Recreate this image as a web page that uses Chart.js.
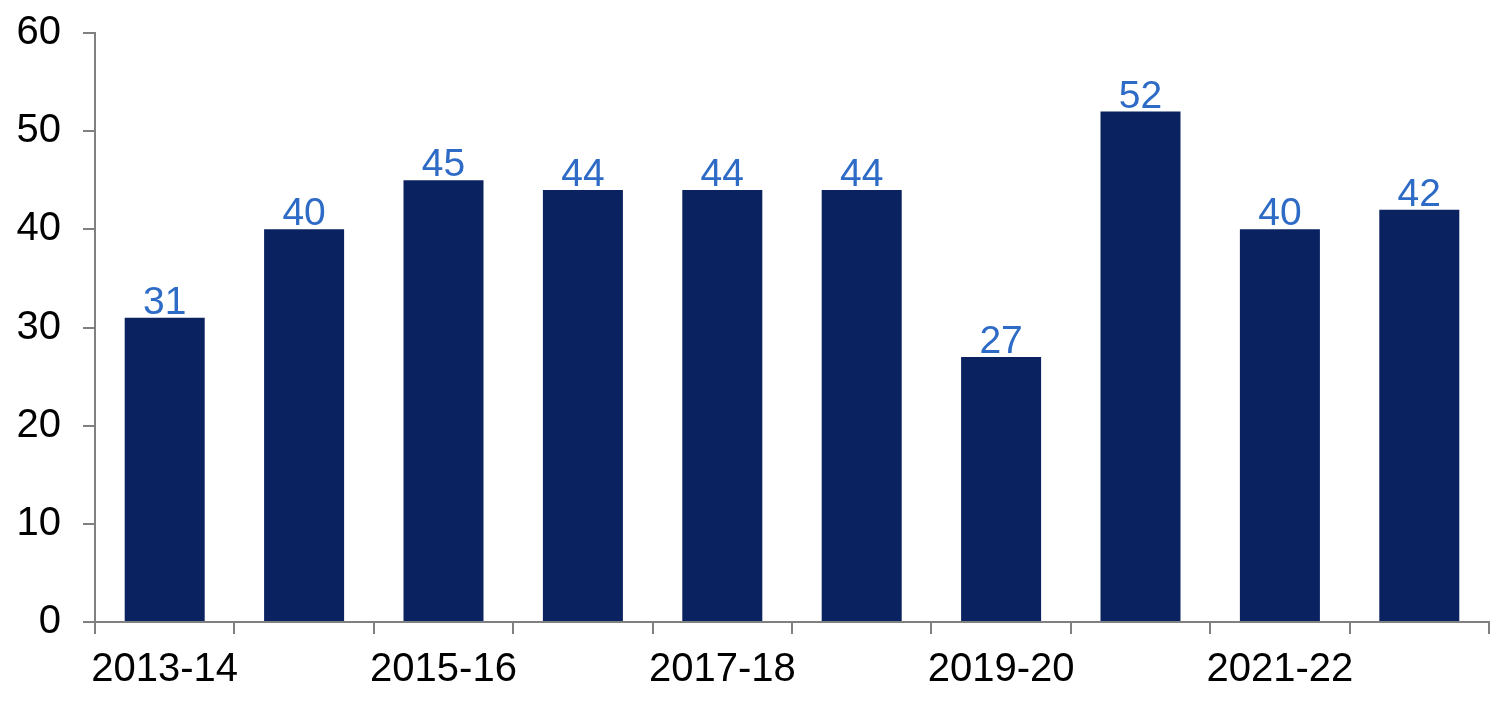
<!DOCTYPE html>
<html>
<head>
<meta charset="utf-8">
<script src="https://cdn.jsdelivr.net/npm/chart.js@4/dist/chart.umd.min.js"></script>
<style>
html,body{margin:0;padding:0;background:#fff;}
#wrap{width:1512px;height:724px;}
</style>
</head>
<body>
<div id="wrap"><canvas id="c" width="1512" height="724"></canvas></div>
<script>
const categories = ['2013-14','2014-15','2015-16','2016-17','2017-18','2018-19','2019-20','2020-21','2021-22','2022-23'];
const values = [31, 40, 45, 44, 44, 44, 27, 52, 40, 42];
const yTicks = [0, 10, 20, 30, 40, 50, 60];

const FONT = 'Liberation Sans, Arial, sans-serif';

const labelPlugin = {
  id: 'barLabels',
  afterDatasetsDraw(chart) {
    const ctx = chart.ctx;
    const meta = chart.getDatasetMeta(0);
    ctx.save();
    ctx.font = '39px ' + FONT;
    ctx.fillStyle = '#2E6BC6';
    ctx.textAlign = 'center';
    ctx.textBaseline = 'alphabetic';
    meta.data.forEach((bar, i) => {
      ctx.fillText(String(values[i]), bar.x, bar.y - 4);
    });
    ctx.restore();
  }
};

new Chart(document.getElementById('c'), {
  type: 'bar',
  data: {
    labels: categories,
    datasets: [{
      data: values,
      backgroundColor: '#0B2260',
      borderWidth: 0,
      categoryPercentage: 1.0,
      barPercentage: 0.574
    }]
  },
  options: {
    responsive: false,
    animation: false,
    devicePixelRatio: 1,
    layout: { padding: { top: 33, right: 23, bottom: 0, left: 0 } },
    plugins: { legend: { display: false }, tooltip: { enabled: false } },
    scales: {
      x: {
        grid: {
          display: true,
          drawOnChartArea: false,
          drawTicks: true,
          tickLength: 12,
          color: '#808080',
          lineWidth: 2,
          offset: true
        },
        border: { display: true, color: '#808080', width: 2 },
        ticks: {
          autoSkip: false,
          maxRotation: 0,
          color: '#000',
          font: { family: FONT, size: 40 },
          padding: 12,
          callback: function(v, i) { return i % 2 === 0 ? categories[i] : ''; }
        },
        afterFit: function(s) { s.height = 102; s.paddingLeft = 0; s.paddingRight = 0; }
      },
      y: {
        min: 0,
        max: 60,
        afterBuildTicks: function(s) { s.ticks = yTicks.map(v => ({ value: v })); },
        grid: {
          display: true,
          drawOnChartArea: false,
          drawTicks: true,
          tickLength: 12,
          color: '#808080',
          lineWidth: 2
        },
        border: { display: true, color: '#808080', width: 2 },
        ticks: {
          color: '#000',
          font: { family: FONT, size: 40 },
          padding: 22
        },
        afterFit: function(s) { s.width = 95; s.paddingTop = 0; s.paddingBottom = 0; }
      }
    }
  },
  plugins: [labelPlugin]
});
</script>
</body>
</html>
